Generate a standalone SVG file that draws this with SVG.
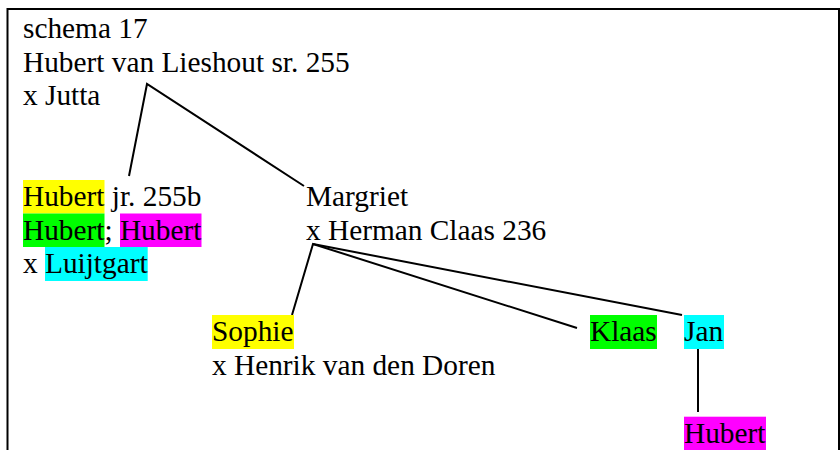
<svg xmlns="http://www.w3.org/2000/svg" width="840" height="450" viewBox="0 0 840 450">
<style>
text{font-family:"Liberation Serif","Times New Roman",serif;font-size:29.33px;fill:#000}
.ln{stroke:#000;stroke-width:2;fill:none}
.y{fill:#ffff00}.g{fill:#00ff00}.m{fill:#ff00ff}.c{fill:#00ffff}
</style>
<rect width="840" height="450" fill="#fff"/>
<g id="frame" class="ln">
<path d="M7.5 450V9H839V450"/>
</g>
<g id="connectors" class="ln">
<path d="M129 176L147 84L304 186"/>
<path d="M292 315L313 244L577 328"/>
<path d="M313 244L682 315"/>
<path d="M698 347V412"/>
</g>
<g id="node-hubert-sr">
<text x="23" y="38">schema 17</text>
<text x="23" y="71.5">Hubert van Lieshout sr. 255</text>
<text x="23" y="105">x Jutta</text>
</g>
<g id="node-hubert-jr">
<rect class="y" x="23" y="180" width="81.5" height="33.5"/>
<rect class="g" x="23" y="213.5" width="81.5" height="33.5"/>
<rect class="m" x="120" y="213.5" width="81.5" height="33.5"/>
<rect class="c" x="45" y="247" width="102.7" height="34"/>
<text x="23" y="206">Hubert jr. 255b</text>
<text x="23" y="239.5">Hubert; Hubert</text>
<text x="23" y="273">x Luijtgart</text>
</g>
<g id="node-margriet">
<text x="306" y="206">Margriet</text>
<text x="306" y="239.5">x Herman Claas 236</text>
</g>
<g id="node-sophie">
<rect class="y" x="212" y="315" width="82" height="34"/>
<text x="212" y="341">Sophie</text>
<text x="212" y="374.5">x Henrik van den Doren</text>
</g>
<g id="node-klaas">
<rect class="g" x="590" y="315" width="67" height="34"/>
<text x="590" y="341">Klaas</text>
</g>
<g id="node-jan">
<rect class="c" x="684" y="315" width="40" height="34"/>
<text x="684" y="341">Jan</text>
</g>
<g id="node-hubert-jan">
<rect class="m" x="684" y="416.7" width="82" height="34"/>
<text x="684" y="443">Hubert</text>
</g>
</svg>
